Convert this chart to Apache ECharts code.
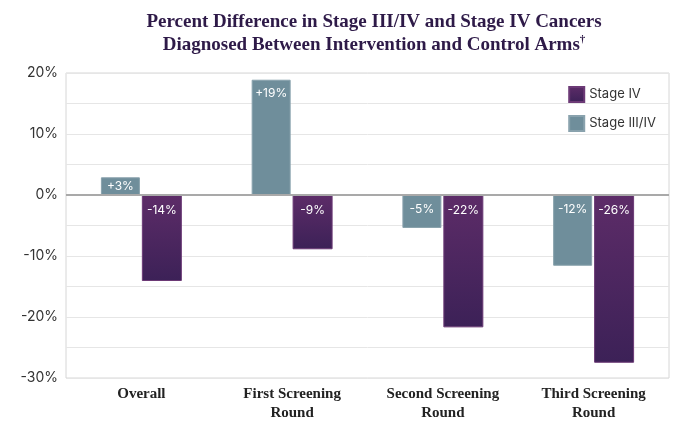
<!DOCTYPE html>
<html>
<head>
<meta charset="utf-8">
<script src="https://cdn.jsdelivr.net/npm/echarts@6/dist/echarts.min.js"></script>
<style>html,body{margin:0;padding:0;background:#fff}#c{width:680px;height:431px}</style>
</head>
<body>
<div id="c"></div>
<script>
var categories = ['Overall', 'First Screening\nRound', 'Second Screening\nRound', 'Third Screening\nRound'];
var stage34Values = [2.9, 18.9, -5.4, -11.6];
var stage4Values = [-14.1, -8.9, -21.7, -27.5];
var stage34Labels = ['+3%', '+19%', '-5%', '-12%'];
var stage4Labels = ['-14%', '-9%', '-22%', '-26%'];
var yTicks = [-30, -20, -10, 0, 10, 20];

var chart = echarts.init(document.getElementById('c'));
var purple = new echarts.graphic.LinearGradient(0, 0, 0, 1, [
  {offset: 0, color: '#5d2c68'},
  {offset: 1, color: '#3c2157'}
]);
var sansFont = 'Inter, "Noto Sans", sans-serif';
var serifFont = '"Liberation Serif", "DejaVu Serif", serif';

// short bars get their label centred inside the bar
function barItems(values) {
  return values.map(function (v) {
    return Math.abs(v) < 4 ? {value: v, label: {position: 'inside'}} : v;
  });
}

chart.setOption({
  animation: false,
  title: {
    text: 'Percent Difference in Stage III/IV and Stage IV Cancers\nDiagnosed Between Intervention and Control Arms{sup|†}',
    left: 369,
    textAlign: 'center',
    top: 6,
    textStyle: {
      fontFamily: serifFont,
      fontWeight: 'bold',
      fontSize: 19,
      color: '#2e1a48',
      lineHeight: 23,
      rich: {
        sup: {fontFamily: serifFont, fontWeight: 'bold', fontSize: 11, color: '#2e1a48', verticalAlign: 'top', lineHeight: 23, padding: [0, 0, 8, 0]}
      }
    }
  },
  legend: {
    orient: 'vertical',
    right: 19,
    top: 81,
    icon: 'rect',
    itemWidth: 15,
    itemHeight: 15,
    itemGap: 12,
    data: ['Stage IV', 'Stage III/IV'],
    textStyle: {fontFamily: sansFont, fontSize: 13, color: '#333'}
  },
  grid: {
    left: 66, right: 11, top: 73, bottom: 53,
    containLabel: false,
    outerBoundsMode: 'none',
    show: true, borderColor: '#d6d6d6', borderWidth: 1, backgroundColor: 'transparent'
  },
  xAxis: {
    type: 'category',
    data: categories,
    position: 'bottom',
    axisTick: {show: false},
    axisLine: {onZero: false, show: false},
    axisLabel: {
      interval: 0,
      margin: 7,
      fontFamily: serifFont,
      fontWeight: 'bold',
      fontSize: 15,
      lineHeight: 19,
      color: '#222'
    }
  },
  yAxis: {
    type: 'value',
    min: -30, max: 20, interval: 5,
    axisLine: {show: false},
    axisTick: {show: false},
    splitLine: {lineStyle: {color: '#e6e6e6', width: 1}},
    axisLabel: {
      fontFamily: sansFont, fontSize: 14, color: '#333', margin: 8,
      formatter: function (v) { return yTicks.indexOf(v) >= 0 ? v + '%' : ''; }
    }
  },
  series: [
    {
      name: 'Stage III/IV',
      type: 'bar',
      data: barItems(stage34Values),
      barWidth: 39,
      barGap: '5%',
      itemStyle: {color: '#6f8e9b', borderColor: '#89a2ad', borderWidth: 1},
      label: {
        show: true, position: 'insideTop', distance: 8,
        color: '#fff', fontFamily: sansFont, fontSize: 12,
        formatter: function (p) { return stage34Labels[p.dataIndex]; }
      },
      markLine: {
        silent: true,
        symbol: 'none',
        label: {show: false},
        lineStyle: {color: '#a9a9a9', width: 2, type: 'solid'},
        data: [{yAxis: 0}]
      }
    },
    {
      name: 'Stage IV',
      type: 'bar',
      data: barItems(stage4Values),
      barWidth: 40,
      itemStyle: {color: purple, borderColor: '#6c3a76', borderWidth: 1},
      label: {
        show: true, position: 'insideTop', distance: 9,
        color: '#fff', fontFamily: sansFont, fontSize: 12,
        formatter: function (p) { return stage4Labels[p.dataIndex]; }
      }
    }
  ]
});
</script>
</body>
</html>
